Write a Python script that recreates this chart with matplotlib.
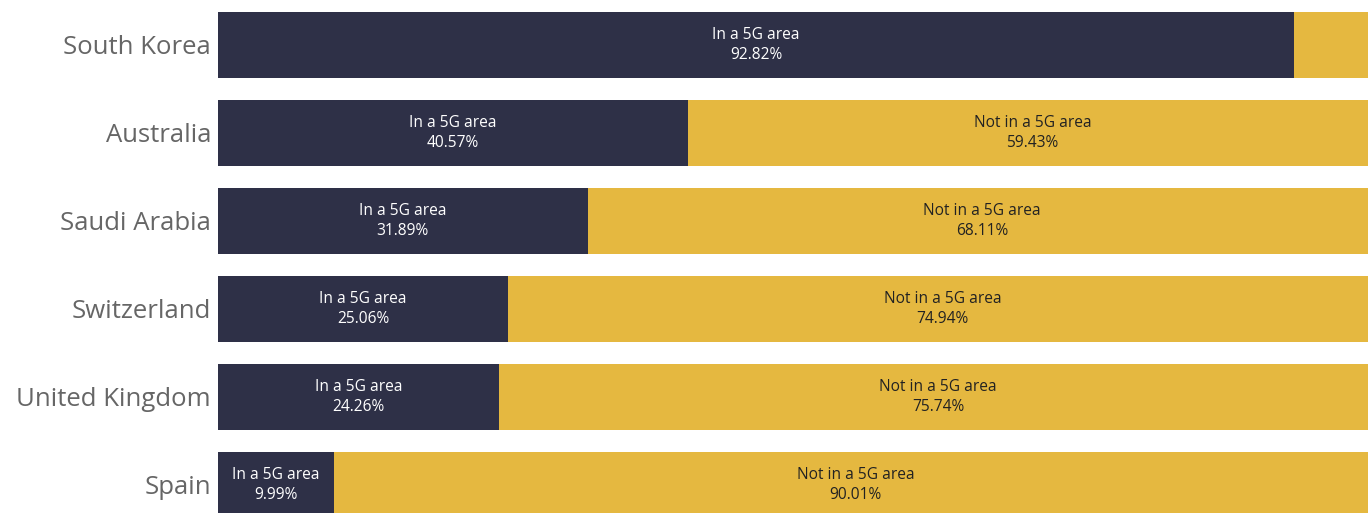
import matplotlib.pyplot as plt

countries = ["South Korea", "Australia", "Saudi Arabia", "Switzerland", "United Kingdom", "Spain"]
in_5g = [92.82, 40.57, 31.89, 25.06, 24.26, 9.99]
not_5g = [7.18, 59.43, 68.11, 74.94, 75.74, 90.01]

navy = "#2e3047"
yellow = "#e5b840"

plt.rcParams['font.family'] = ['Open Sans', 'DejaVu Sans']

fig = plt.figure(figsize=(13.68, 5.13), dpi=100)
# bars run past the right edge of the picture, like in the original crop
ax = fig.add_axes([218 / 1368, 0, 1159 / 1368, 1])

ypos = list(range(len(countries)))
ax.barh(ypos, in_5g, height=0.75, color=navy)
ax.barh(ypos, not_5g, left=in_5g, height=0.75, color=yellow)

for y, a, b in zip(ypos, in_5g, not_5g):
    ax.text(a / 2, y, f"In a 5G area\n{a:.2f}%", ha="center", va="center",
            color="white", fontsize=11.2, linespacing=1.3)
    if b > 8:
        ax.text(a + b / 2, y, f"Not in a 5G area\n{b:.2f}%", ha="center", va="center",
                color="#222222", fontsize=11.2, linespacing=1.3)

ax.set_xlim(0, 100)
ax.set_ylim((513 - 45) / 88, -45 / 88)
ax.set_yticks(ypos)
ax.set_yticklabels(countries, fontsize=18.5, color="#666666")
ax.tick_params(axis="y", length=0, pad=5)
ax.set_xticks([])
for s in ax.spines.values():
    s.set_visible(False)

fig.savefig("out.png", dpi=100)
